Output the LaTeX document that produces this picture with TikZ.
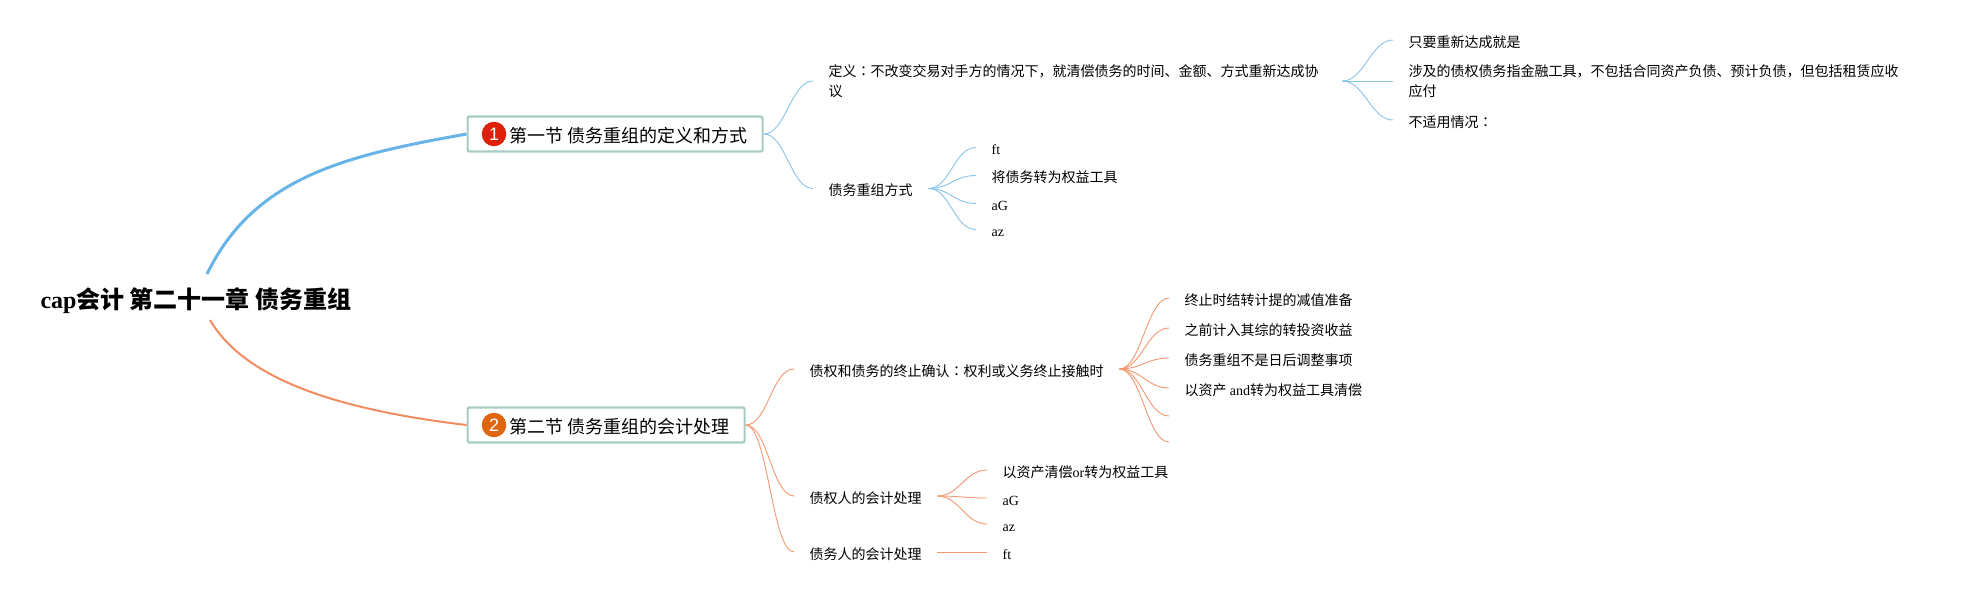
\documentclass[tikz,border=0pt]{standalone}
\usepackage{fontspec}
\setmainfont{Liberation Serif}
\newfontfamily\cjk{Noto Sans CJK SC}
\newfontfamily\cjktc{Noto Sans CJK TC}
\newfontfamily\numfont{Liberation Sans}
\newcommand{\lat}[1]{{\rmfamily #1}}
\newcommand{\duepunti}{{\cjktc ：}}
\definecolor{ramoblu}{HTML}{68B4E6}
\definecolor{ramoara}{HTML}{F28B60}
\definecolor{bordo}{HTML}{A8CCC4}
\definecolor{rosso}{HTML}{DB2109}
\definecolor{arancio}{HTML}{E0650F}

\begin{document}
\begin{tikzpicture}[x=1pt, y=-1pt]
			\tikzset{radice/.style={inner xsep=0pt, inner ysep=10pt, text height=24pt, text depth=1.5pt, font=\cjk\bfseries\fontsize{24}{28}\selectfont}}
			\tikzset{sezione/.style={draw=bordo, line width=2.2pt, rounded corners=2pt, fill=white, minimum height=35pt, inner ysep=0pt, inner xsep=15.5pt, text height=17pt, text depth=1pt, anchor=west, font=\cjk\fontsize{18}{22}\selectfont}}
			\tikzset{tondo/.style={circle, minimum size=24.5pt, inner sep=0pt, text=white, font=\numfont\fontsize{18}{20}\selectfont}}
			\tikzset{voce/.style={anchor=west, inner ysep=1pt, inner xsep=15.5pt, align=left, font=\cjk\fontsize{14}{20}\selectfont}}
			\tikzset{riga/.style={voce, text height=15pt, text depth=0.4pt}}
			\tikzset{lineablu/.style={draw=ramoblu!80, line width=0.9pt}}
			\tikzset{lineaara/.style={draw=ramoara!90, line width=0.9pt}}
			\tikzset{curva/.style={out=0, in=180, out distance=22pt, in distance=22pt}}
			
			\useasboundingbox (0, 0) rectangle (1968, 592);
			
			\node[radice] (R) at (196, 297) {\lat{cap}会计 第二十一章 债务重组};
			
			\node[sezione] (S1) at (466.5, 134) {\hspace*{26pt}第一节 债务重组的定义和方式};
			\node[sezione] (S2) at (466.5, 425) {\hspace*{26pt}第二节 债务重组的会计处理};
			\node[tondo, fill=rosso] (T1) at ([xshift=27.5pt]S1.west) {1};
			\node[tondo, fill=arancio] (T2) at ([xshift=27.5pt]S2.west) {2};
			
			% ramo blu
			\node[voce, text width=498pt] (D) at (813, 81) {定义\duepunti 不改变交易对手方的情况下，就清偿债务的时间、金额、方式重新达成协\\议};
			\node[riga] (M) at (813, 188.5) {债务重组方式};
			\node[riga] (D1) at (1393, 40) {只要重新达成就是};
			\node[voce, text width=500pt] (D2) at (1393, 81) {涉及的债权债务指金融工具，不包括合同资产负债、预计负债，但包括租赁应收\\应付};
			\node[riga] (D3) at (1393, 120) {不适用情况\duepunti};
			\node[riga] (M1) at (976, 147.5) {\lat{ft}};
			\node[riga] (M2) at (976, 175.5) {将债务转为权益工具};
			\node[riga] (M3) at (976, 203.5) {\lat{aG}};
			\node[riga] (M4) at (976, 229.5) {\lat{az}};
			
			% ramo arancione
			\node[riga] (C) at (794, 369) {债权和债务的终止确认\duepunti 权利或义务终止接触时};
			\node[riga] (E) at (794, 496) {债权人的会计处理};
			\node[riga] (F) at (794, 552) {债务人的会计处理};
			\node[riga] (C1) at (1169, 298) {终止时结转计提的减值准备};
			\node[riga] (C2) at (1169, 328) {之前计入其综的转投资收益};
			\node[riga] (C3) at (1169, 358) {债务重组不是日后调整事项};
			\node[riga] (C4) at (1169, 388) {以资产 \lat{and}转为权益工具清偿};
			\coordinate (C5) at (1169, 416);
			\coordinate (C6) at (1169, 442);
			\node[riga] (E1) at (987, 470) {以资产清偿\lat{or}转为权益工具};
			\node[riga] (E2) at (987, 498) {\lat{aG}};
			\node[riga] (E3) at (987, 524) {\lat{az}};
			\node[riga] (F1) at (987, 552) {\lat{ft}};
			
			\draw[ramoblu, line width=3pt] ([xshift=11pt]R.north) .. controls (255, 175) and (350, 155) .. (S1.west);
			\draw[ramoara, line width=2pt] ([xshift=14pt]R.south) .. controls (245, 380) and (340, 410) .. (S2.west);
			
			\draw[lineablu] (S1.east) to[curva] (D.west);
			\draw[lineablu] (S1.east) to[curva] (M.west);
			\draw[lineablu] (D.east) to[curva] (D1.west);
			\draw[lineablu] (D.east) -- (D2.west);
			\draw[lineablu] (D.east) to[curva] (D3.west);
			\draw[lineablu] (M.east) to[curva] (M1.west);
			\draw[lineablu] (M.east) to[curva] (M2.west);
			\draw[lineablu] (M.east) to[curva] (M3.west);
			\draw[lineablu] (M.east) to[curva] (M4.west);
			
			\draw[lineaara] (S2.east) to[curva] (C.west);
			\draw[lineaara] (S2.east) to[curva] (E.west);
			\draw[lineaara] (S2.east) to[curva] (F.west);
			\draw[lineaara] (C.east) to[curva] (C1.west);
			\draw[lineaara] (C.east) to[curva] (C2.west);
			\draw[lineaara] (C.east) to[curva] (C3.west);
			\draw[lineaara] (C.east) to[curva] (C4.west);
			\draw[lineaara] (C.east) to[curva] (C5);
			\draw[lineaara] (C.east) to[curva] (C6);
			\draw[lineaara] (E.east) to[curva] (E1.west);
			\draw[lineaara] (E.east) to[curva] (E2.west);
			\draw[lineaara] (E.east) to[curva] (E3.west);
			\draw[lineaara] (F.east) -- (F1.west);
		\end{tikzpicture}
\end{document}
